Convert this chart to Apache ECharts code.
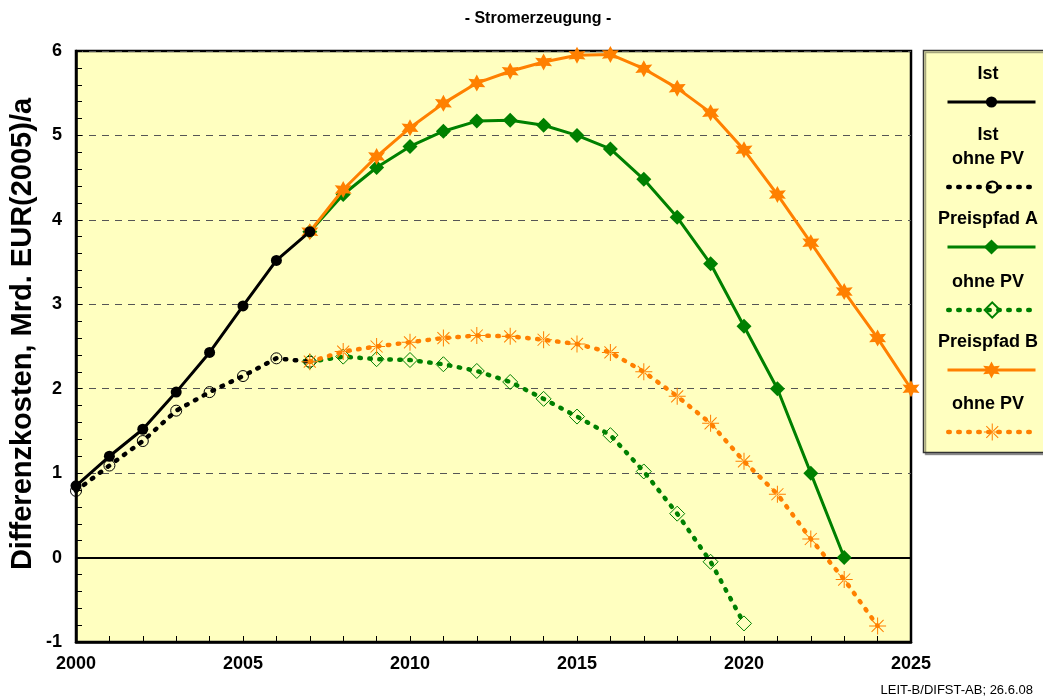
<!DOCTYPE html>
<html>
<head>
<meta charset="utf-8">
<script src="https://cdn.jsdelivr.net/npm/echarts@6/dist/echarts.min.js"></script>
<style>
  html, body { margin: 0; padding: 0; background: #fff; }
  #chart { width: 1043px; height: 700px; }
</style>
</head>
<body>
<div id="chart"></div>
<script>
// Jahre (x-Werte)
const jahreIst = [2000, 2001, 2002, 2003, 2004, 2005, 2006, 2007];
const jahrePfadA = [2007, 2008, 2009, 2010, 2011, 2012, 2013, 2014, 2015, 2016, 2017, 2018, 2019, 2020, 2021, 2022, 2023];
const jahreOhneA = [2007, 2008, 2009, 2010, 2011, 2012, 2013, 2014, 2015, 2016, 2017, 2018, 2019, 2020];
const jahrePfadB = [2007, 2008, 2009, 2010, 2011, 2012, 2013, 2014, 2015, 2016, 2017, 2018, 2019, 2020, 2021, 2022, 2023, 2024, 2025];
const jahreOhneB = [2007, 2008, 2009, 2010, 2011, 2012, 2013, 2014, 2015, 2016, 2017, 2018, 2019, 2020, 2021, 2022, 2023, 2024];

// Differenzkosten, Mrd. EUR(2005)/a
const ist        = [0.85, 1.20, 1.52, 1.96, 2.43, 2.98, 3.52, 3.86];
const istOhnePV  = [0.79, 1.09, 1.38, 1.74, 1.96, 2.15, 2.36, 2.32];
const pfadA      = [3.86, 4.30, 4.62, 4.87, 5.05, 5.17, 5.18, 5.12, 5.00, 4.84, 4.48, 4.03, 3.48, 2.74, 2.00, 1.00, 0.00];
const pfadAOhne  = [2.32, 2.38, 2.35, 2.34, 2.29, 2.21, 2.08, 1.88, 1.67, 1.45, 1.02, 0.52, -0.05, -0.78];
const pfadB      = [3.86, 4.36, 4.75, 5.09, 5.38, 5.62, 5.76, 5.87, 5.95, 5.96, 5.79, 5.56, 5.27, 4.83, 4.30, 3.73, 3.15, 2.60, 2.00];
const pfadBOhne  = [2.32, 2.44, 2.50, 2.55, 2.60, 2.63, 2.62, 2.58, 2.53, 2.43, 2.20, 1.91, 1.59, 1.14, 0.75, 0.22, -0.26, -0.81];

// Legendentexte (Zeilen)
const legendeTexte = [['Ist'], ['Ist', 'ohne PV'], ['Preispfad A'], ['ohne PV'], ['Preispfad B'], ['ohne PV']];

const paar = (xs, ys) => xs.map((x, i) => [x, ys[i]]);

const SCHWARZ = '#000000';
const GRUEN = '#008000';
const ORANGE = '#FF8000';
const HINTERGRUND = '#FFFFC0';
const FONT = '"Liberation Sans", Arial, sans-serif';

const stern = 'path://M0,-10 L2.6,-4.5 L8.66,-5 L5.2,0 L8.66,5 L2.6,4.5 L0,10 L-2.6,4.5 L-8.66,5 L-5.2,0 L-8.66,-5 L-2.6,-4.5 Z';
const asterisk = 'path://M-0.6,-10 L0.6,-10 L0.6,10 L-0.6,10 Z M-10,-0.6 L10,-0.6 L10,0.6 L-10,0.6 Z ' +
  'M-6.65,-7.49 L7.49,6.65 L6.65,7.49 L-7.49,-6.65 Z M-7.49,6.65 L6.65,-7.49 L7.49,-6.65 L-6.65,7.49 Z ' +
  'M-1.8,0 A1.8,1.8 0 1 0 1.8,0 A1.8,1.8 0 1 0 -1.8,0 Z';

const gepunktet = { width: 4.5, type: [1.5, 8.5], cap: 'round' };

let myChart = echarts.init(document.getElementById('chart'));

let series = [
  {
    name: 'Ist ohne PV', type: 'line', data: paar(jahreIst, istOhnePV), z: 2,
    symbol: 'circle', symbolSize: 11,
    itemStyle: { color: 'rgba(0,0,0,0)', borderColor: SCHWARZ, borderWidth: 1 },
    lineStyle: Object.assign({ color: SCHWARZ }, gepunktet)
  },
  {
    name: 'Preispfad A ohne PV', type: 'line', data: paar(jahreOhneA, pfadAOhne), z: 3,
    symbol: 'diamond', symbolSize: 15,
    itemStyle: { color: 'rgba(0,0,0,0)', borderColor: GRUEN, borderWidth: 1 },
    lineStyle: Object.assign({ color: GRUEN }, gepunktet)
  },
  {
    name: 'Preispfad B ohne PV', type: 'line', data: paar(jahreOhneB, pfadBOhne), z: 4,
    symbol: asterisk, symbolSize: 17,
    itemStyle: { color: ORANGE },
    lineStyle: Object.assign({ color: ORANGE }, gepunktet)
  },
  {
    name: 'Preispfad A', type: 'line', data: paar(jahrePfadA, pfadA), z: 5,
    symbol: 'diamond', symbolSize: 15,
    itemStyle: { color: GRUEN },
    lineStyle: { color: GRUEN, width: 3 }
  },
  {
    name: 'Preispfad B', type: 'line', data: paar(jahrePfadB, pfadB), z: 6,
    symbol: stern, symbolSize: 17,
    itemStyle: { color: ORANGE },
    lineStyle: { color: ORANGE, width: 3 }
  },
  {
    name: 'Ist', type: 'line', data: paar(jahreIst, ist), z: 7,
    symbol: 'circle', symbolSize: 11,
    itemStyle: { color: SCHWARZ },
    lineStyle: { color: SCHWARZ, width: 3 },
    markLine: {
      silent: true, symbol: 'none', label: { show: false }, animation: false,
      lineStyle: { color: SCHWARZ, width: 2, type: 'solid' },
      data: [{ yAxis: 0 }]
    }
  }
];

// Legende: je Eintrag eine Linie mit Symbol, Text darüber als Grafik
const legendNamen = ['Ist', 'Ist ohne PV', 'Preispfad A', 'Preispfad A ohne PV', 'Preispfad B', 'Preispfad B ohne PV'];
const legendLinieY = [102, 187, 247, 310, 370, 432];
const legendTextY = [[74], [135, 159], [219], [282], [342], [404]];
const legendItemH = { 'Ist': 14, 'Ist ohne PV': 14, 'Preispfad A': 19, 'Preispfad A ohne PV': 19, 'Preispfad B': 21, 'Preispfad B ohne PV': 21 };

let legenden = legendNamen.map((n, i) => ({
  data: [n], selectedMode: false, orient: 'horizontal',
  left: 946, top: legendLinieY[i] - legendItemH[n] / 2,
  itemWidth: 88, itemHeight: legendItemH[n], itemGap: 0, padding: 0,
  lineStyle: n.indexOf('ohne') >= 0 ? { width: 4.5, type: [1.5, 8.5], cap: 'round' } : { width: 3 },
  formatter: () => '', textStyle: { fontSize: 1 }
}));

let grafik = [
  {
    type: 'rect', z: 0, silent: true,
    shape: { x: 923.5, y: 50.5, width: 130, height: 402 },
    style: { fill: HINTERGRUND, stroke: '#333', lineWidth: 1.5, shadowColor: 'rgba(0,0,0,0.35)', shadowOffsetX: 2, shadowOffsetY: 2 }
  },
  {
    type: 'text', x: 538, y: 19, silent: true,
    style: { text: '- Stromerzeugung -', font: 'bold 16px ' + FONT, fill: '#000', align: 'center', verticalAlign: 'middle' }
  },
  {
    type: 'text', x: 1033, y: 690, silent: true,
    style: { text: 'LEIT-B/DIFST-AB; 26.6.08', font: '13px ' + FONT, fill: '#000', align: 'right', verticalAlign: 'middle' }
  },
  {
    type: 'text', x: 23, y: 334, rotation: Math.PI / 2, silent: true,
    style: { text: 'Differenzkosten, Mrd. EUR(2005)/a', font: 'bold 29px ' + FONT, fill: '#000', align: 'center', verticalAlign: 'middle' }
  }
];
legendeTexte.forEach((zeilen, i) => {
  zeilen.forEach((t, j) => {
    grafik.push({
      type: 'text', x: 988, y: legendTextY[i][j], silent: true, z: 10,
      style: { text: t, font: 'bold 18px ' + FONT, fill: '#000', align: 'center', verticalAlign: 'middle' }
    });
  });
});

let option = {
  animation: false,
  backgroundColor: '#ffffff',
  textStyle: { fontFamily: FONT },
  grid: {
    left: 76, right: 132, top: 51, bottom: 58,
    show: true, backgroundColor: HINTERGRUND, borderColor: '#000', borderWidth: 2.5
  },
  legend: legenden,
  graphic: grafik,
  xAxis: {
    type: 'value', min: 2000, max: 2025, interval: 5,
    axisLine: { show: true, onZero: false, lineStyle: { color: '#000', width: 2.5 } },
    axisTick: { show: true, inside: true, length: 6, lineStyle: { color: '#000', width: 1 } },
    minorTick: { show: true, splitNumber: 5, length: 6, lineStyle: { color: '#000', width: 1 } },
    splitLine: { show: false },
    axisLabel: { fontSize: 18, fontWeight: 'bold', color: '#000', margin: 13, fontFamily: FONT,
      formatter: v => String(v) }
  },
  yAxis: {
    type: 'value', min: -1, max: 6, interval: 1,
    axisLine: { show: true, lineStyle: { color: '#000', width: 2.5 } },
    axisTick: { show: true, inside: true, length: 6, lineStyle: { color: '#000', width: 1 } },
    minorTick: { show: true, splitNumber: 5, length: 6, lineStyle: { color: '#000', width: 1 } },
    splitLine: { show: true, lineStyle: { color: '#555', width: 1.2, type: [7, 6] } },
    axisLabel: { fontSize: 18, fontWeight: 'bold', color: '#000', margin: 14, fontFamily: FONT }
  },
  series: series
};

myChart.setOption(option);
</script>
</body>
</html>
